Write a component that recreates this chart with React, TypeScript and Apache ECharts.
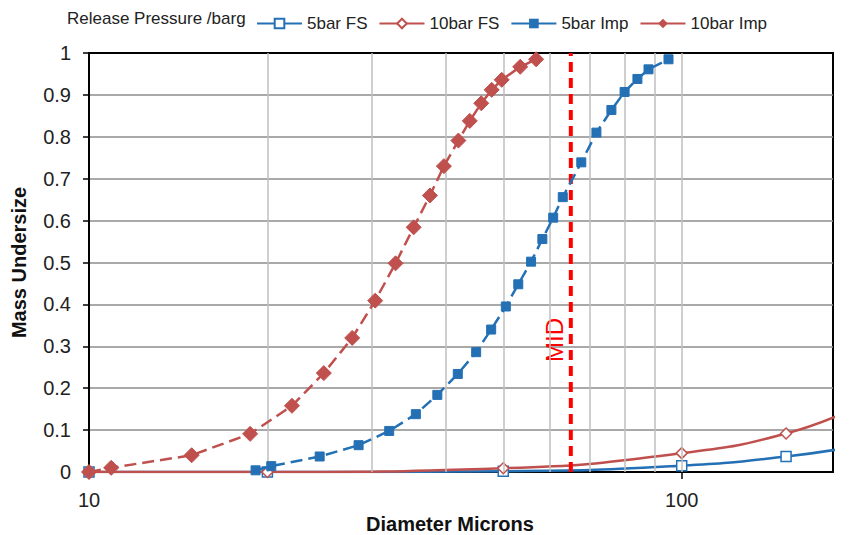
import React, { useEffect, useRef } from "react";
import * as echarts from "echarts";

// ---- data ----
const seriesNames = ["5bar FS", "10bar FS", "5bar Imp", "10bar Imp"];
const legendTitle = "Release Pressure /barg";

const fsX = [10, 20, 50, 100, 150, 200];
const fs5Y = [0, 0, 0.002, 0.015, 0.037, 0.063];
const fs10Y = [0, 0, 0.009, 0.045, 0.092, 0.158];

const imp5X = [19.1, 20.3, 24.5, 28.5, 32.1, 35.6, 38.7, 41.9, 45.0, 47.7, 50.5, 53.0, 55.7, 58.2, 60.7, 63.0, 67.7, 71.8, 76.1, 80.1, 84.2, 87.9, 95.0];
const imp5Y = [0.004, 0.014, 0.037, 0.064, 0.098, 0.138, 0.184, 0.234, 0.286, 0.34, 0.395, 0.448, 0.502, 0.556, 0.607, 0.656, 0.739, 0.81, 0.864, 0.907, 0.938, 0.961, 0.985];

const imp10X = [10, 10.9, 14.9, 18.7, 22.0, 24.9, 27.8, 30.4, 32.9, 35.3, 37.6, 39.7, 42.0, 43.9, 45.9, 47.8, 49.7, 53.4, 56.8];
const imp10Y = [0, 0.01, 0.04, 0.091, 0.158, 0.236, 0.32, 0.409, 0.498, 0.584, 0.66, 0.73, 0.791, 0.838, 0.88, 0.912, 0.936, 0.967, 0.985];

const midX = 65;
const midLabel = "MID";
const midLabelY = 0.315;

const xTickLabels = [10, 100];
const xMinorGrid = [20, 30, 40, 50, 60, 70, 80, 90, 100];
const xMin = 10;
const xMax = 180;
const yMin = 0;
const yMax = 1;
const yStep = 0.1;

const xTitle = "Diameter Microns";
const yTitle = "Mass Undersize";

const BLUE = "#2470B5";
const RED = "#C0504D";
const FONT = "'Liberation Sans', Arial, sans-serif";

const zip = (xs: number[], ys: number[]) => xs.map((x, i) => [x, ys[i]]);

export default function App() {
  const ref = useRef<HTMLDivElement>(null);

  useEffect(() => {
    if (!ref.current) return;
    const chart = echarts.init(ref.current, undefined, { renderer: "svg" });

    const option: any = {
      animation: false,
      backgroundColor: "#fff",
      textStyle: { fontFamily: FONT },
      grid: {
        left: 89,
        right: 18,
        top: 53,
        bottom: 63,
        containLabel: false,
        outerBoundsMode: "none",
        show: true,
        borderColor: "#000",
        borderWidth: 2,
        backgroundColor: "transparent",
      },
      graphic: [
        {
          type: "text",
          left: 67,
          top: 10,
          style: { text: legendTitle, fontFamily: FONT, fontSize: 17, fill: "#222" },
        },
      ],
      legend: {
        left: 251,
        top: 10,
        itemWidth: 45,
        itemHeight: 12,
        itemGap: 11,
        data: seriesNames,
        textStyle: { fontFamily: FONT, fontSize: 17, color: "#222" },
        lineStyle: { type: "solid" },
      },
      xAxis: {
        type: "log",
        logBase: 10,
        min: xMin,
        max: xMax,
        name: xTitle,
        nameLocation: "middle",
        nameGap: 42,
        nameMoveOverlap: false,
        nameTextStyle: {
          fontFamily: FONT,
          fontSize: 20,
          fontWeight: "bold",
          color: "#111",
          verticalAlign: "top",
          padding: [0, 22, 0, 0],
        },
        axisLine: { show: true, lineStyle: { color: "#000", width: 2 } },
        axisTick: { show: true, customValues: xTickLabels, length: 7, lineStyle: { color: "#000", width: 1.5 } },
        axisLabel: { customValues: xTickLabels, fontFamily: FONT, fontSize: 20, color: "#222", margin: 18 },
        splitLine: { show: false },
      },
      yAxis: {
        type: "value",
        min: yMin,
        max: yMax,
        interval: yStep,
        name: yTitle,
        nameLocation: "middle",
        nameGap: 60,
        nameMoveOverlap: false,
        nameTextStyle: { fontFamily: FONT, fontSize: 20, fontWeight: "bold", color: "#111" },
        axisLine: { show: true, lineStyle: { color: "#000", width: 2 } },
        axisTick: { show: true, length: 6, lineStyle: { color: "#000", width: 1.5 } },
        axisLabel: { fontFamily: FONT, fontSize: 20, color: "#222", margin: 18 },
        splitLine: { show: true, showMaxLine: false, showMinLine: false, lineStyle: { color: "#8C8C8C", width: 1.5 } },
      },
      series: [
        {
          name: "__grid",
          type: "line",
          data: [],
          silent: true,
          z: 1,
          markLine: {
            silent: true,
            symbol: ["none", "none"],
            label: { show: false },
            lineStyle: { color: "#BFBFBF", width: 1.5, type: "solid" },
            data: xMinorGrid.map((v) => ({ xAxis: v })),
          },
        },
        {
          name: seriesNames[0],
          type: "line",
          z: 3,
          data: zip(fsX, fs5Y),
          smooth: 0.5,
          symbol: "rect",
          symbolSize: 10,
          showAllSymbol: true,
          lineStyle: { color: BLUE, width: 2.5 },
          itemStyle: { color: "#fff", borderColor: BLUE, borderWidth: 1.5 },
        },
        {
          name: seriesNames[1],
          type: "line",
          z: 3,
          data: zip(fsX, fs10Y),
          smooth: 0.5,
          symbol: "diamond",
          symbolSize: 11,
          lineStyle: { color: RED, width: 2.5 },
          itemStyle: { color: "#fff", borderColor: RED, borderWidth: 1.5 },
        },
        {
          name: "__mid",
          type: "line",
          z: 4,
          silent: true,
          data: [
            [midX, yMin],
            [midX, yMax],
          ],
          symbol: "none",
          lineStyle: { color: "#FF0000", width: 4, type: [10, 6] },
        },
        {
          name: "__midLabel",
          type: "scatter",
          z: 4,
          silent: true,
          data: [[midX, midLabelY]],
          symbolSize: 0,
          itemStyle: { opacity: 1 },
          label: {
            show: true,
            formatter: midLabel,
            position: "inside",
            rotate: 90,
            offset: [0, -16],
            fontFamily: FONT,
            fontSize: 24,
            color: "#FF0000",
            opacity: 1,
            textBorderWidth: 0,
          },
        },
        {
          name: seriesNames[2],
          type: "line",
          z: 5,
          data: zip(imp5X, imp5Y),
          symbol: "rect",
          symbolSize: 9,
          lineStyle: { color: BLUE, width: 2.5, type: [12, 6] },
          itemStyle: { color: BLUE, borderColor: BLUE },
        },
        {
          name: seriesNames[3],
          type: "line",
          z: 5,
          data: zip(imp10X, imp10Y),
          symbol: "diamond",
          symbolSize: 15,
          lineStyle: { color: RED, width: 2.5, type: [12, 6] },
          itemStyle: { color: RED, borderColor: RED },
        },
      ],
    };

    chart.setOption(option);
    return () => chart.dispose();
  }, []);

  return (
    <div
      ref={ref}
      style={{ position: "fixed", left: 0, top: 0, width: 851, height: 535, background: "#fff" }}
    />
  );
}
